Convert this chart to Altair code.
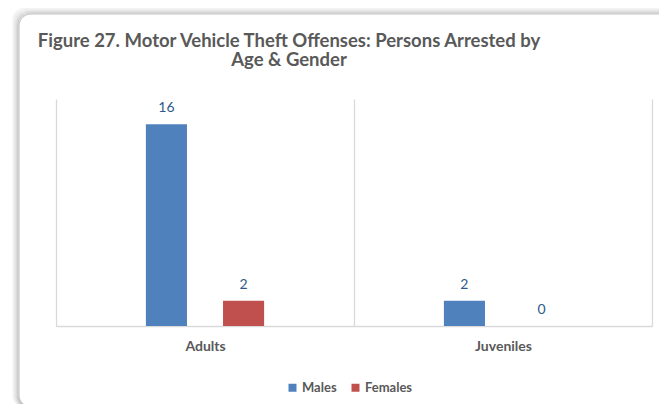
import altair as alt
import pandas as pd

categories = ["Adults", "Adults", "Juveniles", "Juveniles"]
genders = ["Males", "Females", "Males", "Females"]
values = [16, 2, 2, 0]
gender_order = ["Males", "Females"]
colors = ["#4F81BD", "#C0504D"]
title_lines = ["Figure 27. Motor Vehicle Theft Offenses: Persons Arrested by", "Age & Gender"]

df = pd.DataFrame({"Age": categories, "Gender": genders, "Count": values})

FONT = "Lato"
W, H = 596, 227

# decorative frame with soft shadow (stroke-only so it never hides guides)
frame_df = pd.DataFrame({"k": [0]})
shadows = []
for off, op in [(6, 0.08), (5, 0.12), (4, 0.16), (3, 0.22), (2, 0.3), (1, 0.4)]:
    shadows.append(
        alt.Chart(frame_df).mark_rect(
            fill=None, stroke="#808080", strokeWidth=1.2, strokeOpacity=op, cornerRadius=12
        ).encode(
            x=alt.value(-37 - off), x2=alt.value(W + 60),
            y=alt.value(-85 - off), y2=alt.value(H + 81),
        )
    )
frame = alt.Chart(frame_df).mark_rect(
    fill=None, stroke="#BFBFBF", strokeWidth=1, cornerRadius=12
).encode(
    x=alt.value(-37), x2=alt.value(W + 60),
    y=alt.value(-85), y2=alt.value(H + 81),
)

# chart title as real text
title_df = pd.DataFrame({"line": title_lines, "row": [0, 1]})
title = alt.Chart(title_df).mark_text(
    font=FONT, fontSize=18.5, fontWeight="bold", color="#595959",
    align="center", baseline="alphabetic",
).encode(
    x=alt.value(233),
    y=alt.Y("row:Q", scale=alt.Scale(domain=[0, 1], range=[-52, -33]), axis=None),
    text="line:N",
)

# spacer slots on both sides of the two genders inside each category band
offset_domain = ["_l"] + gender_order + ["_r"]

base = alt.Chart(df).encode(
    x=alt.X(
        "Age:N",
        title=None,
        scale=alt.Scale(paddingInner=0, paddingOuter=0),
        axis=alt.Axis(
            labelAngle=0, labelFont=FONT, labelFontSize=14, labelFontWeight="bold",
            labelColor="#595959", labelPadding=13, ticks=False, tickSize=0,
            domainColor="#D9D9D9", domainWidth=1.3,
            grid=True, gridColor="#D9D9D9", gridWidth=1.3, tickBand="extent",
        ),
    ),
    xOffset=alt.XOffset(
        "Gender:N",
        scale=alt.Scale(domain=offset_domain, paddingInner=0.4675, paddingOuter=0.1656),
    ),
    y=alt.Y("Count:Q", scale=alt.Scale(domain=[0, 18]), axis=None),
)

bars = base.mark_bar().encode(
    color=alt.Color(
        "Gender:N", sort=gender_order,
        scale=alt.Scale(domain=gender_order, range=colors),
        legend=alt.Legend(
            title=None, orient="none", legendX=230, legendY=282, direction="horizontal",
            symbolType="square", symbolSize=64, symbolStrokeWidth=0,
            labelFont=FONT, labelFontSize=13, labelFontWeight="bold", labelColor="#595959",
            columnPadding=12, labelOffset=3,
        ),
    )
)

labels = base.mark_text(
    baseline="alphabetic", dy=-12, font=FONT, fontSize=14, color="#305A8C"
).encode(text="Count:Q")

chart = alt.layer(*shadows, frame, title, bars, labels).resolve_scale(
    y="independent"
).properties(
    width=W, height=H,
    autosize=alt.AutoSizeParams(type="none"),
    padding={"left": 48, "top": 91, "right": 7, "bottom": 78},
).configure(
    background="white",
    view=alt.ViewConfig(stroke=None),
)

chart.save("out.html", embed_options={"renderer": "svg", "actions": False})
